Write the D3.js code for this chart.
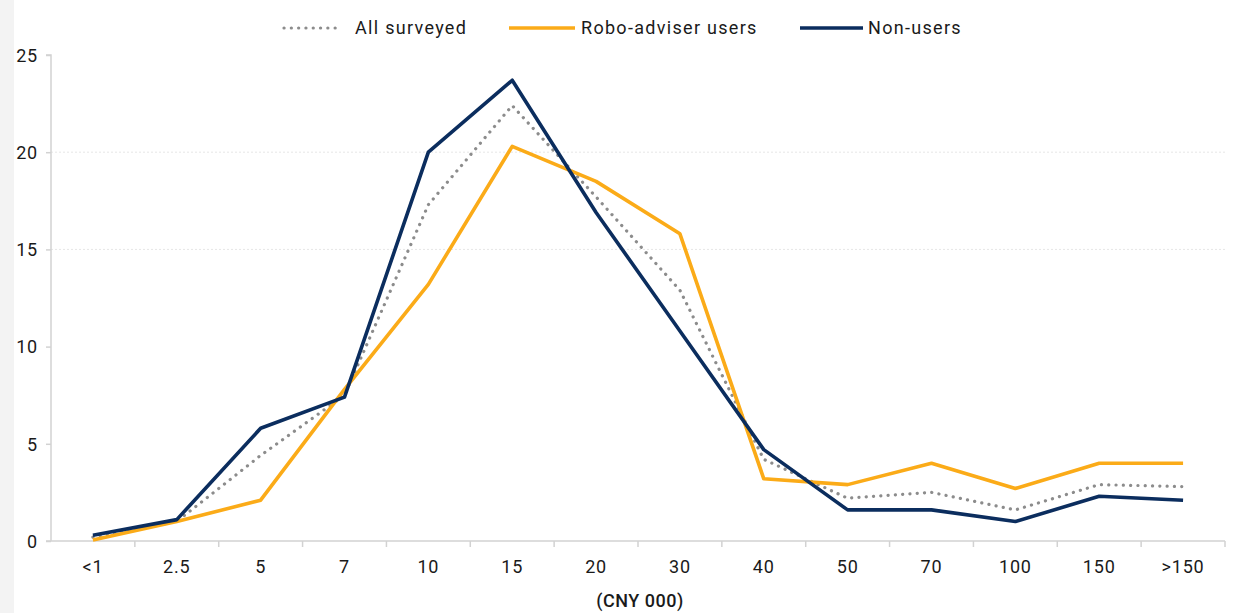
<!DOCTYPE html>
<html>
<head>
<meta charset="utf-8">
<script src="https://cdn.jsdelivr.net/npm/d3@7"></script>
<style>
  html, body { margin: 0; padding: 0; background: #ffffff; }
  svg { display: block; }
  text { font-family: Roboto, "Liberation Sans", sans-serif; fill: #1a1a1a; }
</style>
</head>
<body>
<svg id="chart" width="1236" height="613"></svg>
<script>
// Income bands (CNY 000) and share of respondents (%) in each band
const categories = ["<1", "2.5", "5", "7", "10", "15", "20", "30", "40", "50", "70", "100", "150", ">150"];
const allSurveyed = [0.2, 1.0, 4.4, 7.5, 17.3, 22.4, 17.7, 12.9, 4.2, 2.2, 2.5, 1.6, 2.9, 2.8];
const roboUsers   = [0.05, 1.0, 2.1, 7.8, 13.2, 20.3, 18.5, 15.8, 3.2, 2.9, 4.0, 2.7, 4.0, 4.0];
const nonUsers    = [0.3, 1.1, 5.8, 7.4, 20.0, 23.7, 16.9, 10.8, 4.7, 1.6, 1.6, 1.0, 2.3, 2.1];
const yTicks = [0, 5, 10, 15, 20, 25];
const gridValues = [15, 20];
const xTitle = "(CNY 000)";

const series = [
  { name: "All surveyed", values: allSurveyed, color: "#8c8c8c", width: 3.2, dash: "0.1 7.2", cap: "round" },
  { name: "Robo-adviser users", values: roboUsers, color: "#fbab18", width: 3.6, dash: null, cap: "butt" },
  { name: "Non-users", values: nonUsers, color: "#0b2d5e", width: 3.6, dash: null, cap: "butt" }
];

const svg = d3.select("#chart");
const W = 1236, H = 613;
const m = { left: 51, right: 11, top: 55, bottom: 72 };

// light page edge on the left
svg.append("rect").attr("x", 0).attr("y", 0).attr("width", 14).attr("height", H).attr("fill", "#f3f3f3");

const x = d3.scaleBand().domain(categories).range([m.left, W - m.right]).paddingInner(0).paddingOuter(0);
const y = d3.scaleLinear().domain([0, 25]).range([H - m.bottom, m.top]);

// horizontal gridlines
svg.append("g").selectAll("line")
  .data(gridValues)
  .join("line")
  .attr("x1", m.left).attr("x2", W - m.right)
  .attr("y1", d => y(d)).attr("y2", d => y(d))
  .attr("stroke", "#e6e6e6").attr("stroke-width", 1).attr("stroke-dasharray", "2 2");

// y axis
const yAxis = svg.append("g").attr("transform", `translate(${m.left},0)`)
  .call(d3.axisLeft(y).tickValues(yTicks).tickSize(5).tickPadding(8));
yAxis.select(".domain").attr("stroke", "#d2d2d2").attr("stroke-width", 1.5)
  .attr("d", `M-5,${y(25)}H0V${y(0)}`);
yAxis.selectAll(".tick line").attr("stroke", "#d2d2d2").attr("stroke-width", 1.5);
yAxis.selectAll(".tick text").attr("font-size", 18).attr("fill", "#1a1a1a")
  .attr("letter-spacing", 0.8).attr("dy", "0.35em")
  .attr("font-family", "Roboto, sans-serif");

// x axis: ticks at band boundaries
const xAxisG = svg.append("g").attr("transform", `translate(0,${y(0)})`);
xAxisG.append("line").attr("x1", m.left - 5).attr("x2", W - m.right)
  .attr("stroke", "#d2d2d2").attr("stroke-width", 1.5);
const bounds = categories.map(c => x(c) + x.bandwidth());
xAxisG.selectAll("line.tk").data(bounds).join("line").attr("class", "tk")
  .attr("x1", d => d).attr("x2", d => d).attr("y1", 0).attr("y2", 6)
  .attr("stroke", "#d2d2d2").attr("stroke-width", 1.5);
xAxisG.selectAll("text.lbl").data(categories).join("text").attr("class", "lbl")
  .attr("x", d => x(d) + x.bandwidth() / 2).attr("y", 32)
  .attr("text-anchor", "middle").attr("font-size", 18).attr("letter-spacing", 0.8)
  .text(d => d);

svg.append("text").attr("x", (m.left + W - m.right) / 2 + 2).attr("y", 607)
  .attr("text-anchor", "middle").attr("font-size", 18).attr("font-weight", 500)
  .attr("letter-spacing", 0.5)
  .text(xTitle);

// lines
const line = d3.line()
  .x((d, i) => x(categories[i]) + x.bandwidth() / 2)
  .y(d => y(d));

series.forEach(s => {
  svg.append("path").datum(s.values)
    .attr("d", line)
    .attr("fill", "none")
    .attr("stroke", s.color)
    .attr("stroke-width", s.width)
    .attr("stroke-linejoin", "round")
    .attr("stroke-linecap", s.cap)
    .attr("stroke-dasharray", s.dash);
});

// legend
const legendItems = [
  { s: series[0], x0: 284, x1: 342, tx: 355 },
  { s: series[1], x0: 509, x1: 575, tx: 581 },
  { s: series[2], x0: 800, x1: 863, tx: 868 }
];
const lg = svg.append("g");
legendItems.forEach(it => {
  lg.append("line").attr("x1", it.x0).attr("x2", it.x1).attr("y1", 28).attr("y2", 28)
    .attr("stroke", it.s.color).attr("stroke-width", it.s.width)
    .attr("stroke-linecap", it.s.cap).attr("stroke-dasharray", it.s.dash);
  lg.append("text").attr("x", it.tx).attr("y", 34).attr("font-size", 18)
    .attr("letter-spacing", 1.3).text(it.s.name);
});
</script>
</body>
</html>
